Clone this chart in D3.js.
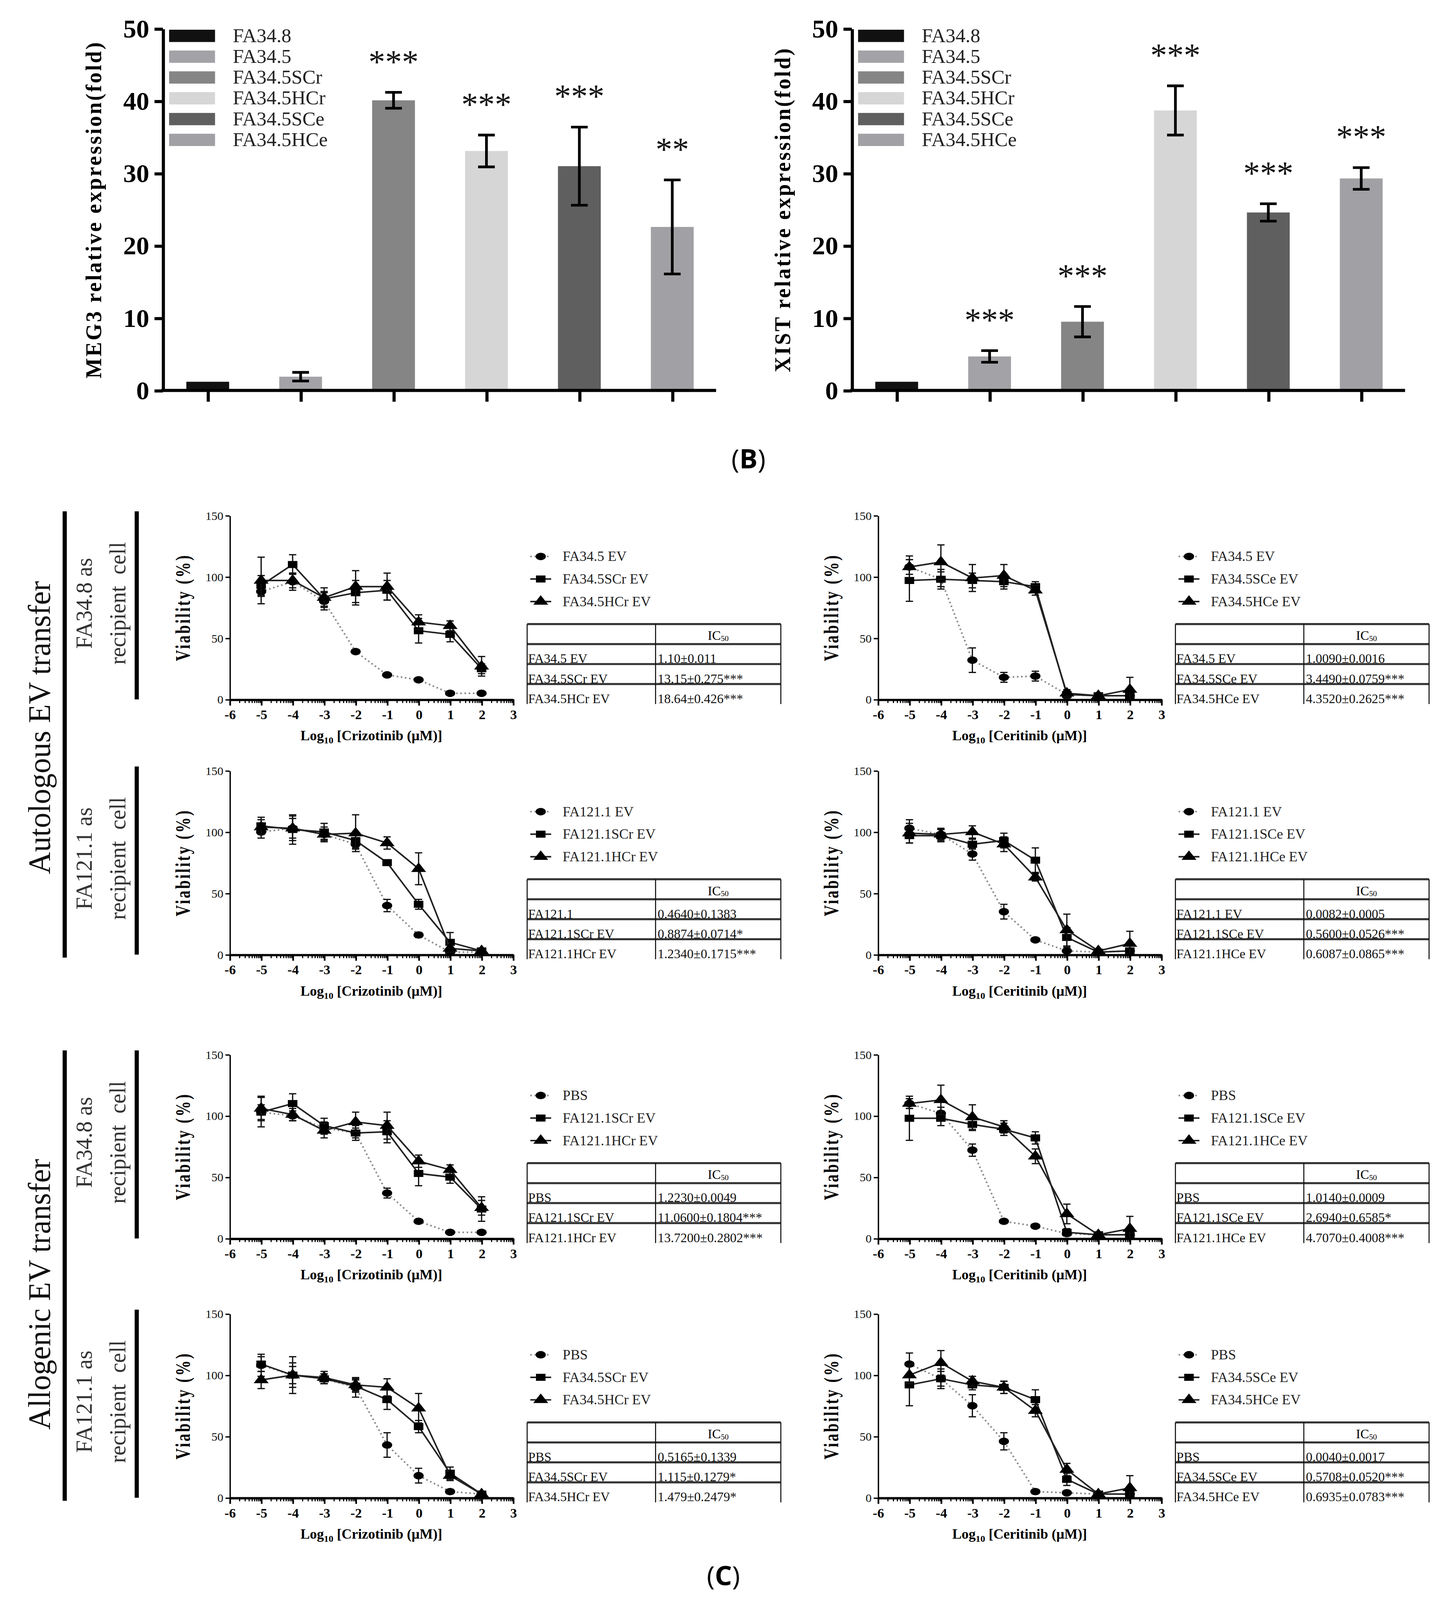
<!DOCTYPE html>
<html>
<head>
<meta charset="utf-8">
<style>
  html, body { margin: 0; padding: 0; background: #fff; overflow: hidden; }
  svg { display: block; width: 100vw; height: 100vh; }
</style>
<script src="https://cdn.jsdelivr.net/npm/d3@7"></script>
</head>
<body>
<svg id="fig" viewBox="0 0 1390 1561.3" preserveAspectRatio="none"></svg>
<script>
// ---- bar charts (MEG3 / XIST) ----
const barGroups = ["FA34.8", "FA34.5", "FA34.5SCr", "FA34.5HCr", "FA34.5SCe", "FA34.5HCe"]
const barColors = ["#111111", "#a3a3a7", "#858585", "#d6d6d6", "#5f5f5f", "#a1a1a5"]
const barTicks = [0, 10, 20, 30, 40, 50]

const meg3Mean = [1.2, 1.9, 40.1, 33.1, 31.0, 22.6]
const meg3Err  = [0, 0.6, 1.1, 2.2, 5.4, 6.5]
const meg3Sig  = ["", "", "***", "***", "***", "**"]

const xistMean = [1.2, 4.7, 9.5, 38.7, 24.6, 29.3]
const xistErr  = [0, 0.8, 2.1, 3.4, 1.2, 1.5]
const xistSig  = ["", "***", "***", "***", "***", "***"]

// ---- viability curves ----
const logDose = [-5, -4, -3, -2, -1, 0, 1, 2]
const doseTicks = [-6, -5, -4, -3, -2, -1, 0, 1, 2, 3]
const viabilityTicks = [0, 50, 100, 150]

// autologous, crizotinib, FA34.8 recipient
const crzAuto348Names = ["FA34.5 EV", "FA34.5SCr EV", "FA34.5HCr EV"]
const crzAuto348Mean = [
  [88, 96, 80, 39, 20, 16, 5, 5],
  [93, 110, 82, 87, 89, 56, 53, 25],
  [97, 97, 83, 92, 92, 63, 60, 27]]
const crzAuto348Sd = [
  [4, 7, 7, 1, 1, 1, 1, 1],
  [8, 8, 6, 10, 8, 10, 6, 4],
  [19, 6, 8, 13, 11, 6, 4, 8]]
const crzAuto348Ic50 = [["FA34.5 EV", "1.10±0.011"], ["FA34.5SCr EV", "13.15±0.275***"], ["FA34.5HCr EV", "18.64±0.426***"]]

// autologous, crizotinib, FA121.1 recipient
const crzAuto121Names = ["FA121.1 EV", "FA121.1SCr EV", "FA121.1HCr EV"]
const crzAuto121Mean = [
  [100, 103, 98, 90, 40, 16, 2, 2],
  [105, 102, 100, 93, 75, 41, 10, 3],
  [104, 103, 98, 99, 91, 70, 5, 3]]
const crzAuto121Sd = [
  [5, 8, 4, 4, 5, 2, 1, 1],
  [7, 12, 7, 6, 2, 4, 8, 2],
  [6, 10, 6, 15, 5, 13, 3, 2]]
const crzAuto121Ic50 = [["FA121.1", "0.4640±0.1383"], ["FA121.1SCr EV", "0.8874±0.0714*"], ["FA121.1HCr EV", "1.2340±0.1715***"]]

// allogenic, crizotinib, FA34.8 recipient
const crzAllo348Names = ["PBS", "FA121.1SCr EV", "FA121.1HCr EV"]
const crzAllo348Mean = [
  [103, 100, 90, 86, 37, 14, 5, 5],
  [103, 110, 92, 86, 87, 53, 50, 24],
  [106, 101, 88, 95, 92, 63, 56, 25]]
const crzAllo348Sd = [
  [6, 4, 5, 4, 4, 1, 1, 1],
  [12, 8, 6, 6, 9, 10, 5, 10],
  [10, 5, 6, 8, 11, 5, 4, 6]]
const crzAllo348Ic50 = [["PBS", "1.2230±0.0049"], ["FA121.1SCr EV", "11.0600±0.1804***"], ["FA121.1HCr EV", "13.7200±0.2802***"]]

// allogenic, crizotinib, FA121.1 recipient
const crzAllo121Names = ["PBS", "FA34.5SCr EV", "FA34.5HCr EV"]
const crzAllo121Mean = [
  [108, 100, 97, 90, 43, 18, 5, 3],
  [109, 100, 97, 91, 80, 58, 20, 3],
  [96, 100, 98, 92, 90, 73, 18, 3]]
const crzAllo121Sd = [
  [9, 7, 4, 8, 10, 6, 1, 1],
  [6, 15, 4, 5, 8, 5, 5, 2],
  [7, 10, 5, 5, 7, 12, 4, 2]]
const crzAllo121Ic50 = [["PBS", "0.5165±0.1339"], ["FA34.5SCr EV", "1.115±0.1279*"], ["FA34.5HCr EV", "1.479±0.2479*"]]

// autologous, ceritinib, FA34.8 recipient
const cerAuto348Names = ["FA34.5 EV", "FA34.5SCe EV", "FA34.5HCe EV"]
const cerAuto348Mean = [
  [108, 98, 32, 18, 19, 4, 3, 3],
  [97, 98, 97, 96, 92, 4, 3, 3],
  [108, 112, 99, 101, 89, 5, 3, 8]]
const cerAuto348Sd = [
  [6, 6, 10, 4, 4, 1, 1, 1],
  [17, 8, 6, 6, 4, 3, 2, 2],
  [9, 14, 11, 9, 4, 3, 2, 10]]
const cerAuto348Ic50 = [["FA34.5 EV", "1.0090±0.0016"], ["FA34.5SCe EV", "3.4490±0.0759***"], ["FA34.5HCe EV", "4.3520±0.2625***"]]

// autologous, ceritinib, FA121.1 recipient
const cerAuto121Names = ["FA121.1 EV", "FA121.1SCe EV", "FA121.1HCe EV"]
const cerAuto121Mean = [
  [103, 98, 82, 35, 12, 3, 2, 3],
  [97, 97, 90, 93, 77, 14, 2, 3],
  [99, 98, 100, 90, 63, 20, 3, 9]]
const cerAuto121Sd = [
  [7, 4, 5, 6, 1, 1, 1, 1],
  [6, 5, 4, 6, 10, 8, 1, 2],
  [8, 5, 5, 6, 3, 13, 1, 10]]
const cerAuto121Ic50 = [["FA121.1 EV", "0.0082±0.0005"], ["FA121.1SCe EV", "0.5600±0.0526***"], ["FA121.1HCe EV", "0.6087±0.0865***"]]

// allogenic, ceritinib, FA34.8 recipient
const cerAllo348Names = ["PBS", "FA121.1SCe EV", "FA121.1HCe EV"]
const cerAllo348Mean = [
  [110, 102, 72, 14, 10, 4, 3, 3],
  [98, 98, 93, 89, 82, 5, 3, 3],
  [110, 113, 99, 91, 67, 20, 3, 8]]
const cerAllo348Sd = [
  [4, 5, 5, 1, 1, 1, 1, 1],
  [18, 6, 5, 5, 5, 3, 2, 2],
  [4, 12, 10, 5, 6, 8, 2, 10]]
const cerAllo348Ic50 = [["PBS", "1.0140±0.0009"], ["FA121.1SCe EV", "2.6940±0.6585*"], ["FA121.1HCe EV", "4.7070±0.4008***"]]

// allogenic, ceritinib, FA121.1 recipient
const cerAllo121Names = ["PBS", "FA34.5SCe EV", "FA34.5HCe EV"]
const cerAllo121Mean = [
  [109, 97, 75, 46, 5, 4, 3, 3],
  [92, 97, 92, 90, 80, 15, 3, 3],
  [100, 110, 95, 90, 71, 23, 3, 8]]
const cerAllo121Sd = [
  [9, 8, 9, 7, 1, 1, 1, 1],
  [17, 6, 4, 5, 8, 5, 1, 2],
  [7, 10, 4, 5, 5, 5, 1, 10]]
const cerAllo121Ic50 = [["PBS", "0.0040±0.0017"], ["FA34.5SCe EV", "0.5708±0.0520***"], ["FA34.5HCe EV", "0.6935±0.0783***"]]

const panels = [
  {col: 0, row: 0, drug: "Crizotinib", names: crzAuto348Names, mean: crzAuto348Mean, sd: crzAuto348Sd, ic50: crzAuto348Ic50},
  {col: 0, row: 1, drug: "Crizotinib", names: crzAuto121Names, mean: crzAuto121Mean, sd: crzAuto121Sd, ic50: crzAuto121Ic50},
  {col: 0, row: 2, drug: "Crizotinib", names: crzAllo348Names, mean: crzAllo348Mean, sd: crzAllo348Sd, ic50: crzAllo348Ic50},
  {col: 0, row: 3, drug: "Crizotinib", names: crzAllo121Names, mean: crzAllo121Mean, sd: crzAllo121Sd, ic50: crzAllo121Ic50},
  {col: 1, row: 0, drug: "Ceritinib", names: cerAuto348Names, mean: cerAuto348Mean, sd: cerAuto348Sd, ic50: cerAuto348Ic50},
  {col: 1, row: 1, drug: "Ceritinib", names: cerAuto121Names, mean: cerAuto121Mean, sd: cerAuto121Sd, ic50: cerAuto121Ic50},
  {col: 1, row: 2, drug: "Ceritinib", names: cerAllo348Names, mean: cerAllo348Mean, sd: cerAllo348Sd, ic50: cerAllo348Ic50},
  {col: 1, row: 3, drug: "Ceritinib", names: cerAllo121Names, mean: cerAllo121Mean, sd: cerAllo121Sd, ic50: cerAllo121Ic50}
]

// ---- layout ----
const SERIF = '"Liberation Serif", "Times New Roman", serif'
const SANS = '"Open Sans", "Liberation Sans", sans-serif'
const fig = d3.select("#fig")

const colX = [220, 841]
const rowTop = [503, 752, 1029, 1282]
const plotH = 179.5

function drawBars(ax, mean, err, sig, yTitle) {
  let g = fig.append("g")
  let x = d3.scalePoint().domain(barGroups).range([ax + 43, ax + 488])
  let y = d3.scaleLinear().domain([0, 50]).range([381, 28])
  let bw = 41
  let idx = d3.range(barGroups.length)

  g.selectAll("rect.bar").data(idx).enter().append("rect")
    .attr("x", i => x(barGroups[i]) - bw / 2)
    .attr("width", bw)
    .attr("y", i => y(mean[i]))
    .attr("height", i => y(0) - y(mean[i]))
    .attr("fill", i => barColors[i])

  let withErr = idx.filter(i => err[i] > 0)
  g.selectAll("line.eb").data(withErr).enter().append("line")
    .attr("x1", i => x(barGroups[i])).attr("x2", i => x(barGroups[i]))
    .attr("y1", i => y(mean[i] - err[i])).attr("y2", i => y(mean[i] + err[i]))
    .attr("stroke", "#000").attr("stroke-width", 2.6)
  for (let k of [-1, 1]) {
    g.selectAll("line.cap" + k).data(withErr).enter().append("line")
      .attr("x1", i => x(barGroups[i]) - 8).attr("x2", i => x(barGroups[i]) + 8)
      .attr("y1", i => y(mean[i] + k * err[i])).attr("y2", i => y(mean[i] + k * err[i]))
      .attr("stroke", "#000").attr("stroke-width", 2.6)
  }

  g.selectAll("text.sig").data(idx.filter(i => sig[i])).enter().append("text")
    .attr("x", i => x(barGroups[i]))
    .attr("y", i => y(mean[i] + err[i]) - 19)
    .attr("text-anchor", "middle")
    .attr("font-family", SERIF).attr("font-size", 32).attr("fill", "#111")
    .text(i => sig[i])

  // axes
  let yAxis = g.append("g").attr("transform", `translate(${ax},0)`)
    .call(d3.axisLeft(y).tickValues(barTicks).tickSize(8).tickSizeOuter(0).tickPadding(5))
  yAxis.select(".domain").attr("stroke-width", 3)
  yAxis.selectAll(".tick line").attr("stroke-width", 3)
  yAxis.selectAll(".tick text").attr("font-family", SERIF).attr("font-size", 25)
    .attr("font-weight", "bold").attr("fill", "#000")

  let xAxis = g.append("g").attr("transform", `translate(0,${y(0)})`)
    .call(d3.axisBottom(x).tickSize(11).tickFormat(""))
  xAxis.select(".domain").remove()
  xAxis.selectAll(".tick line").attr("stroke-width", 3)
  g.append("line").attr("x1", ax - 1.5).attr("x2", ax + 530)
    .attr("y1", y(0)).attr("y2", y(0)).attr("stroke", "#000").attr("stroke-width", 3)

  g.append("text")
    .attr("transform", `translate(${ax - 59},${(y(0) + y(50)) / 2}) rotate(-90)`)
    .attr("text-anchor", "middle")
    .attr("font-family", SERIF).attr("font-size", 21).attr("font-weight", "bold")
    .attr("letter-spacing", 1.6)
    .text(yTitle)

  // legend
  let lg = g.selectAll("g.leg").data(idx).enter().append("g")
    .attr("transform", i => `translate(${ax + 6},${35 + i * 20.3})`)
  lg.append("rect").attr("x", 0).attr("y", -6).attr("width", 44).attr("height", 12)
    .attr("fill", i => barColors[i])
  lg.append("text").attr("x", 61).attr("y", 6)
    .attr("font-family", SERIF).attr("font-size", 19).attr("fill", "#222")
    .text(i => barGroups[i])
}

drawBars(156, meg3Mean, meg3Err, meg3Sig, "MEG3 relative expression(fold)")
drawBars(816, xistMean, xistErr, xistSig, "XIST relative expression(fold)")

// panel letters
function panelLetter(cx, cy, letter) {
  let t = fig.append("text").attr("x", cx).attr("y", cy).attr("text-anchor", "middle")
    .attr("font-family", SANS).attr("font-size", 26).attr("fill", "#000")
  t.append("tspan").text("(")
  t.append("tspan").attr("font-weight", "bold").text(letter)
  t.append("tspan").text(")")
}
panelLetter(717, 457, "B")
panelLetter(693, 1547, "C")

// ---- viability panels ----
const symbols = [d3.symbolCircle, d3.symbolSquare, d3.symbolTriangle]
const symSize = [52, 58, 62]
const minorTicks = d3.range(-6, 3).flatMap(d => d3.range(2, 10).map(k => d + Math.log10(k)))

function marker(sel, s) {
  sel.append("path")
    .attr("d", d3.symbol().type(symbols[s]).size(symSize[s]))
    .attr("fill", "#000")
}

function drawViability(p) {
  let ax = colX[p.col], top = rowTop[p.row], bot = top + plotH
  let x = d3.scaleLinear().domain([-6, 3]).range([ax, ax + 271.5])
  let y = d3.scaleLinear().domain([0, 150]).range([bot, top])
  let g = fig.append("g")

  let line = d3.line().x((d, i) => x(logDose[i])).y(d => y(d))

  p.mean.forEach((m, s) => {
    let sg = g.append("g")
    sg.append("path").datum(m).attr("d", line).attr("fill", "none")
      .attr("stroke", s === 0 ? "#8a8a8a" : "#222")
      .attr("stroke-width", s === 0 ? 1.6 : 1.5)
      .attr("stroke-dasharray", s === 0 ? "1.5 2.5" : null)
    let sd = p.sd[s]
    sg.selectAll("line.e").data(m).enter().append("line")
      .attr("x1", (d, i) => x(logDose[i])).attr("x2", (d, i) => x(logDose[i]))
      .attr("y1", (d, i) => y(Math.max(0, d - sd[i]))).attr("y2", (d, i) => y(d + sd[i]))
      .attr("stroke", "#111").attr("stroke-width", 1.2)
    for (let k of [-1, 1]) {
      sg.selectAll("line.c" + k).data(m).enter().append("line")
        .attr("x1", (d, i) => x(logDose[i]) - 3.5).attr("x2", (d, i) => x(logDose[i]) + 3.5)
        .attr("y1", (d, i) => y(Math.max(0, d + k * sd[i]))).attr("y2", (d, i) => y(Math.max(0, d + k * sd[i])))
        .attr("stroke", "#111").attr("stroke-width", 1.2)
    }
    sg.selectAll("g.pt").data(m).enter().append("g")
      .attr("transform", (d, i) => `translate(${x(logDose[i])},${y(d)}) scale(1.2,0.9)`)
      .call(sel => marker(sel, s))
  })

  // axes
  let yAxis = g.append("g").attr("transform", `translate(${ax},0)`)
    .call(d3.axisLeft(y).tickValues(viabilityTicks).tickSize(4).tickSizeOuter(0).tickPadding(2))
  yAxis.select(".domain").attr("stroke-width", 1.3)
  yAxis.selectAll(".tick line").attr("stroke-width", 1.3)
  yAxis.selectAll(".tick text").attr("font-family", SERIF).attr("font-size", 11.5).attr("fill", "#111")

  let minor = g.append("g").attr("transform", `translate(0,${bot})`)
    .call(d3.axisBottom(x).tickValues(minorTicks).tickSize(3.5).tickFormat(""))
  minor.select(".domain").remove()
  minor.selectAll(".tick line").attr("stroke-width", 1.1)

  let xAxis = g.append("g").attr("transform", `translate(0,${bot})`)
    .call(d3.axisBottom(x).tickValues(doseTicks).tickSize(6).tickSizeOuter(0).tickPadding(4)
      .tickFormat(d => String(d)))
  xAxis.select(".domain").attr("stroke-width", 2.2)
  xAxis.selectAll(".tick line").attr("stroke-width", 1.6)
  xAxis.selectAll(".tick text").attr("font-family", SERIF).attr("font-size", 13)
    .attr("font-weight", "bold").attr("fill", "#000")

  let xl = g.append("text").attr("x", (x(-6) + x(3)) / 2).attr("y", bot + 40)
    .attr("text-anchor", "middle").attr("font-family", SERIF)
    .attr("font-size", 13.5).attr("font-weight", "bold")
  xl.append("tspan").text("Log")
  xl.append("tspan").attr("font-size", 9).attr("dy", 3).text("10")
  xl.append("tspan").attr("dy", -3).text(` [${p.drug} (μM)]`)

  g.append("text")
    .attr("transform", `translate(${ax - 38},${(top + bot) / 2}) rotate(-90) scale(1,1.3)`)
    .attr("text-anchor", "middle").attr("font-family", SERIF)
    .attr("font-size", 15).attr("font-weight", "bold").attr("letter-spacing", 1.6)
    .text("Viability (%)")

  // legend
  p.names.forEach((name, s) => {
    let ly = top + 40 + s * 22
    let lx = ax + 298
    let lg = g.append("g")
    lg.append("line").attr("x1", lx - 10).attr("x2", lx + 10).attr("y1", ly).attr("y2", ly)
      .attr("stroke", s === 0 ? "#8a8a8a" : "#222").attr("stroke-width", 1.5)
      .attr("stroke-dasharray", s === 0 ? "1.5 2.5" : null)
    lg.append("g").attr("transform", `translate(${lx},${ly}) scale(1.2,0.9)`).call(sel => marker(sel, s))
    lg.append("text").attr("x", ax + 319).attr("y", ly + 4.5)
      .attr("font-family", SERIF).attr("font-size", 13.5).attr("fill", "#222")
      .text(name)
  })

  // IC50 table
  let tx = ax + 285, tm = ax + 408, tr = ax + 528, tt = top + 106, rh = 19.5
  let tg = g.append("g")
  tg.selectAll("line.h").data(d3.range(4)).enter().append("line")
    .attr("x1", tx).attr("x2", tr).attr("y1", k => tt + k * rh).attr("y2", k => tt + k * rh)
    .attr("stroke", "#333").attr("stroke-width", 2)
  tg.selectAll("line.v").data([tx, tm, tr]).enter().append("line")
    .attr("x1", d => d).attr("x2", d => d).attr("y1", tt).attr("y2", tt + 4 * rh)
    .attr("stroke", "#111").attr("stroke-width", 1)
  let hd = tg.append("text").attr("x", (tm + tr) / 2).attr("y", tt + rh - 4)
    .attr("text-anchor", "middle").attr("font-family", SERIF).attr("font-size", 12.5)
  hd.append("tspan").text("IC")
  hd.append("tspan").attr("font-size", 7.5).attr("dy", 1).text("50")
  p.ic50.forEach((row, k) => {
    let by = tt + (k + 2) * rh - 1
    tg.append("text").attr("x", tx + 1).attr("y", by)
      .attr("font-family", SERIF).attr("font-size", 12.5).attr("fill", "#111").text(row[0])
    tg.append("text").attr("x", tm + 2).attr("y", by)
      .attr("font-family", SERIF).attr("font-size", 12.5).attr("fill", "#111").text(row[1])
  })
}

panels.forEach(drawViability)

// ---- side labels ----
const groupTitles = ["Autologous EV transfer", "Allogenic EV transfer"]
const groupCenters = [710, 1263]
const groupSpans = [[0, 1], [2, 3]]
const rowCells = ["FA34.8 as", "FA121.1 as", "FA34.8 as", "FA121.1 as"]

groupTitles.forEach((t, gi) => {
  fig.append("text")
    .attr("transform", `translate(48,${groupCenters[gi]}) rotate(-90)`)
    .attr("text-anchor", "middle").attr("font-family", SERIF).attr("font-size", 30)
    .attr("fill", "#111").text(t)
  let [r0, r1] = groupSpans[gi]
  fig.append("line").attr("x1", 62).attr("x2", 62)
    .attr("y1", rowTop[r0] - 4).attr("y2", rowTop[r1] + plotH + 3)
    .attr("stroke", "#000").attr("stroke-width", 4)
})

rowCells.forEach((t, r) => {
  let cy = rowTop[r] + plotH / 2 - 4
  fig.append("text")
    .attr("transform", `translate(88,${cy}) rotate(-90)`)
    .attr("text-anchor", "middle").attr("font-family", SERIF).attr("font-size", 22)
    .attr("fill", "#333").text(t)
  fig.append("text")
    .attr("transform", `translate(120,${cy}) rotate(-90)`)
    .attr("text-anchor", "middle").attr("font-family", SERIF).attr("font-size", 22)
    .attr("fill", "#333").attr("xml:space", "preserve").style("white-space", "pre")
    .text("recipient  cell")
  fig.append("line").attr("x1", 131).attr("x2", 131)
    .attr("y1", rowTop[r] - 4).attr("y2", rowTop[r] + plotH)
    .attr("stroke", "#000").attr("stroke-width", 4)
})
</script>
</body>
</html>
